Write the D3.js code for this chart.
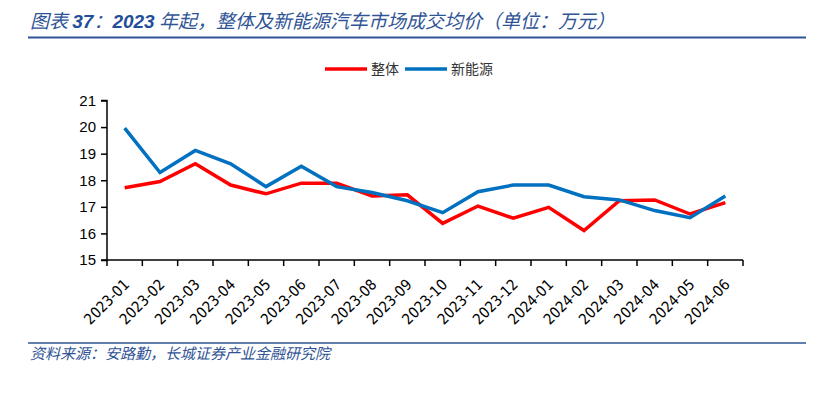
<!DOCTYPE html>
<html>
<head>
<meta charset="utf-8">
<script src="https://cdn.jsdelivr.net/npm/d3@7"></script>
<style>
body { margin: 0; background: #fff; }
</style>
</head>
<body>
<div id="chart"></div>
<script>
var months = ["2023-01", "2023-02", "2023-03", "2023-04", "2023-05", "2023-06", "2023-07", "2023-08", "2023-09",
    "2023-10", "2023-11", "2023-12", "2024-01", "2024-02", "2024-03", "2024-04", "2024-05", "2024-06"];
var overall = [17.72, 17.95, 18.62, 17.82, 17.49, 17.89, 17.89, 17.41, 17.45,
    16.38, 17.03, 16.57, 16.98, 16.11, 17.23, 17.26, 16.73, 17.16];
var nev = [19.96, 18.29, 19.12, 18.62, 17.76, 18.53, 17.76, 17.54, 17.23,
    16.78, 17.57, 17.82, 17.82, 17.38, 17.26, 16.86, 16.59, 17.41];
var yTicks = [15, 16, 17, 18, 19, 20, 21];
var seriesNames = ["整体", "新能源"];
var seriesColors = ["#ff0000", "#0070c0"];

var W = 823, H = 400;
var titleColor = "#2f5496";
var axisFont = "'DejaVu Sans Condensed', 'DejaVu Sans', sans-serif";

var svg = d3.select("#chart").append("svg").attr("width", W).attr("height", H);

// title
var title = svg.append("text").attr("x", 30).attr("y", 28)
    .style("font-family", "'Noto Sans CJK SC', sans-serif")
    .style("font-style", "italic").style("font-size", "19px").style("fill", titleColor);
title.append("tspan").text("图表 ");
title.append("tspan").text("37").style("font-weight", "bold").style("font-family", "'Liberation Sans', Arial, sans-serif").style("fill", "#1f4e9a");
title.append("tspan").text("：");
title.append("tspan").text("2023").style("font-weight", "bold").style("font-family", "'Liberation Sans', Arial, sans-serif").style("fill", "#1f4e9a");
title.append("tspan").text(" 年起，整体及新能源汽车市场成交均价（单位：万元）");

svg.append("line").attr("x1", 28).attr("x2", 806).attr("y1", 37.5).attr("y2", 37.5)
    .style("stroke", titleColor).style("stroke-width", 2);

// footer
svg.append("line").attr("x1", 28).attr("x2", 806).attr("y1", 343).attr("y2", 343)
    .style("stroke", titleColor).style("stroke-width", 1.5);
svg.append("text").attr("x", 30).attr("y", 359)
    .style("font-family", "'Noto Sans CJK SC', sans-serif")
    .style("font-style", "italic").style("font-size", "15px").style("fill", titleColor)
    .text("资料来源：安路勤，长城证券产业金融研究院");

// plot
var x = d3.scaleBand().domain(months).range([107, 743]);
var y = d3.scaleLinear().domain([15, 21]).range([260, 100.5]);

var g = svg.append("g").style("font-family", axisFont);

var yAxis = d3.axisLeft(y).tickValues(yTicks).tickSize(6).tickPadding(5).tickFormat(d3.format("d"));
var ya = g.append("g").attr("transform", "translate(107,0)").call(yAxis);
ya.selectAll("text").style("font-size", "15px").style("fill", "#000");
ya.select(".domain").attr("d", "M-6,100.5H0V260H-6").style("stroke", "#000").style("stroke-width", 1.5);
ya.selectAll(".tick line").style("stroke", "#000").style("stroke-width", 1.5);

// x axis: ticks at band boundaries
var xa = g.append("g").attr("transform", "translate(0,260)");
xa.append("line").attr("x1", 107).attr("x2", 743).attr("y1", 0).attr("y2", 0)
    .style("stroke", "#000").style("stroke-width", 1.5);
var bounds = months.map(function (m) { return x(m); }).concat([x.range()[1]]);
xa.selectAll(".xt").data(bounds).enter().append("line").attr("class", "xt")
    .attr("x1", function (d) { return d; }).attr("x2", function (d) { return d; })
    .attr("y1", 0).attr("y2", 6).style("stroke", "#000").style("stroke-width", 1.5);
xa.selectAll(".xl").data(months).enter().append("text").attr("class", "xl")
    .attr("transform", function (d) {
        return "translate(" + (x(d) + x.bandwidth() / 2 - 2) + ",18) rotate(-45)";
    })
    .attr("text-anchor", "end").attr("dy", "0.71em")
    .style("font-size", "15px").style("fill", "#000")
    .text(function (d) { return d; });

var line = d3.line()
    .x(function (d, i) { return x(months[i]) + x.bandwidth() / 2; })
    .y(function (d) { return y(d); });

[overall, nev].forEach(function (s, k) {
    g.append("path").datum(s).attr("d", line)
        .style("fill", "none").style("stroke", seriesColors[k])
        .style("stroke-width", 3.5).style("stroke-linejoin", "miter");
});

// legend
var legX = [325, 405];
var leg = svg.selectAll(".leg").data(seriesNames).enter().append("g").attr("class", "leg")
    .attr("transform", function (d, i) { return "translate(" + legX[i] + ",69)"; });
leg.append("line").attr("x1", 0).attr("x2", 42).attr("y1", 0).attr("y2", 0)
    .style("stroke", function (d, i) { return seriesColors[i]; }).style("stroke-width", 3.5);
leg.append("text").attr("x", 46).attr("dy", "0.35em")
    .style("font-family", "'Noto Sans CJK SC', sans-serif").style("font-size", "14px").style("fill", "#333")
    .text(function (d) { return d; });
</script>
</body>
</html>
